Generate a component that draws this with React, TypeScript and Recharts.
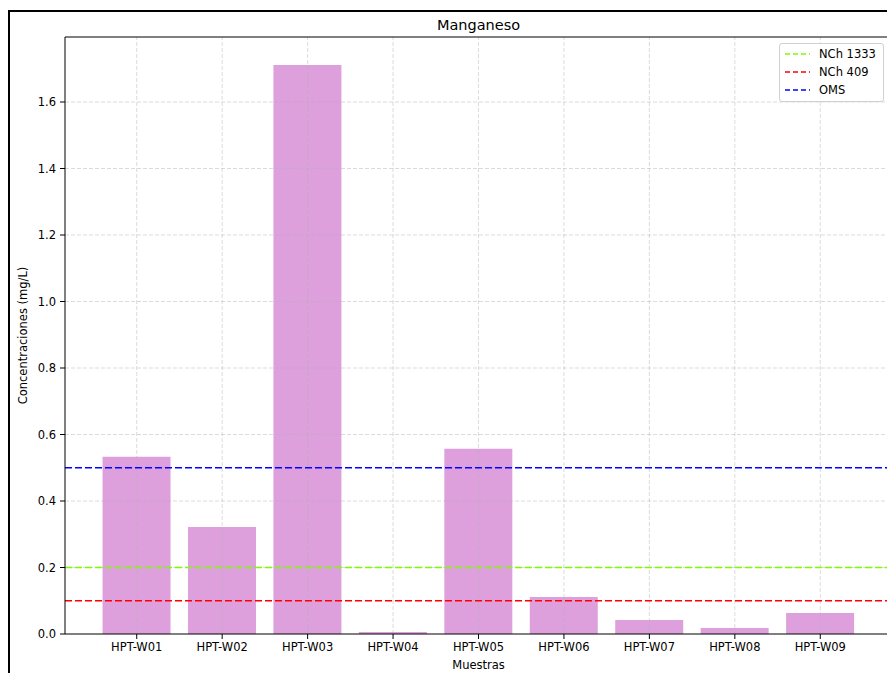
import React from "react";
import { Bar, BarChart, Legend, ReferenceLine, XAxis, YAxis } from "recharts";

const muestras = ["HPT-W01", "HPT-W02", "HPT-W03", "HPT-W04", "HPT-W05", "HPT-W06", "HPT-W07", "HPT-W08", "HPT-W09"];
const manganeso = [0.533, 0.322, 1.711, 0.006, 0.557, 0.111, 0.042, 0.018, 0.063];
const yTicks = [0, 0.2, 0.4, 0.6, 0.8, 1.0, 1.2, 1.4, 1.6];
const yMax = 1.7955;

const limites = [
  { name: "NCh 1333", value: 0.2, color: "#7CFC00" },
  { name: "NCh 409", value: 0.1, color: "#FF0000" },
  { name: "OMS", value: 0.5, color: "#0000FF" },
];

const FONT = "'DejaVu Sans', sans-serif";
const TICK = { fontSize: 11.5, fill: "#000", fontFamily: FONT };
const GRID = { stroke: "#b0b0b0", strokeOpacity: 0.45, strokeDasharray: "4 2", strokeWidth: 1 };

const data = muestras.map((m, i) => ({ muestra: m, mn: manganeso[i] }));

function LegendBox() {
  return (
    <div
      style={{
        border: "1px solid #d0d0d0",
        borderRadius: 3,
        background: "rgba(255,255,255,0.8)",
        padding: "1px 0 2px 0",
        width: 105,
        fontFamily: FONT,
        fontSize: 11.5,
        color: "#000",
        boxSizing: "border-box",
      }}
    >
      {limites.map((l) => (
        <div key={l.name} style={{ display: "flex", alignItems: "center", height: 18 }}>
          <svg width={39} height={18} style={{ flex: "none" }}>
            <line x1={5} x2={30} y1={9} y2={9} stroke={l.color} strokeWidth={1.6} strokeDasharray="5 3" />
          </svg>
          <span style={{ whiteSpace: "nowrap" }}>{l.name}</span>
        </div>
      ))}
    </div>
  );
}

export default function App() {
  return (
    <div style={{ position: "relative", width: 887, height: 673, overflow: "hidden", background: "#fff" }}>
      <style>{`body{margin:0}`}</style>
      <div
        style={{
          position: "absolute",
          left: 8,
          top: 10,
          width: 1000,
          height: 1000,
          border: "2px solid #000",
          boxSizing: "border-box",
        }}
      />
      <div style={{ position: "absolute", left: 0, top: 0 }}>
        <BarChart width={910} height={673} data={data} margin={{ top: 37, right: 18, bottom: 0, left: 0 }} barCategoryGap="10%">
          <XAxis
            dataKey="muestra"
            height={39}
            tick={TICK}
            tickSize={5}
            tickMargin={4}
            interval={0}
            padding={{ left: 29, right: 29 }}
            stroke="#000"
            tickLine={{ stroke: "#000" }}
          />
          <YAxis
            width={65}
            domain={[0, yMax]}
            ticks={yTicks}
            tickFormatter={(v: number) => v.toFixed(1)}
            tick={TICK}
            tickSize={5}
            tickMargin={4}
            stroke="#000"
            tickLine={{ stroke: "#000" }}
            allowDataOverflow
          />
          <Bar dataKey="mn" fill="#DDA0DD" isAnimationActive={false} />
          {muestras.map((m) => (
            <ReferenceLine key={m} x={m} {...GRID} />
          ))}
          {yTicks.slice(1).map((t) => (
            <ReferenceLine key={t} y={t} {...GRID} />
          ))}
          <ReferenceLine y={yMax} stroke="#000" strokeWidth={1} />
          {limites.map((l) => (
            <ReferenceLine key={l.name} y={l.value} stroke={l.color} strokeWidth={1.6} strokeDasharray="7 3" />
          ))}
          <Legend
            layout="vertical"
            align="center"
            verticalAlign="middle"
            wrapperStyle={{ left: 779, top: 43, width: "auto" }}
            content={() => <LegendBox />}
          />
        </BarChart>
      </div>
      <svg width={887} height={673} style={{ position: "absolute", left: 0, top: 0, pointerEvents: "none" }}>
        <text x={478.5} y={30} textAnchor="middle" fontFamily={FONT} fontSize={14.5} fill="#000">
          Manganeso
        </text>
        <text x={478.5} y={669} textAnchor="middle" fontFamily={FONT} fontSize={11.5} fill="#000">
          Muestras
        </text>
        <text
          x={27}
          y={335.5}
          textAnchor="middle"
          transform="rotate(-90, 27, 335.5)"
          fontFamily={FONT}
          fontSize={11.5}
          fill="#000"
        >
          Concentraciones (mg/L)
        </text>
      </svg>
    </div>
  );
}
